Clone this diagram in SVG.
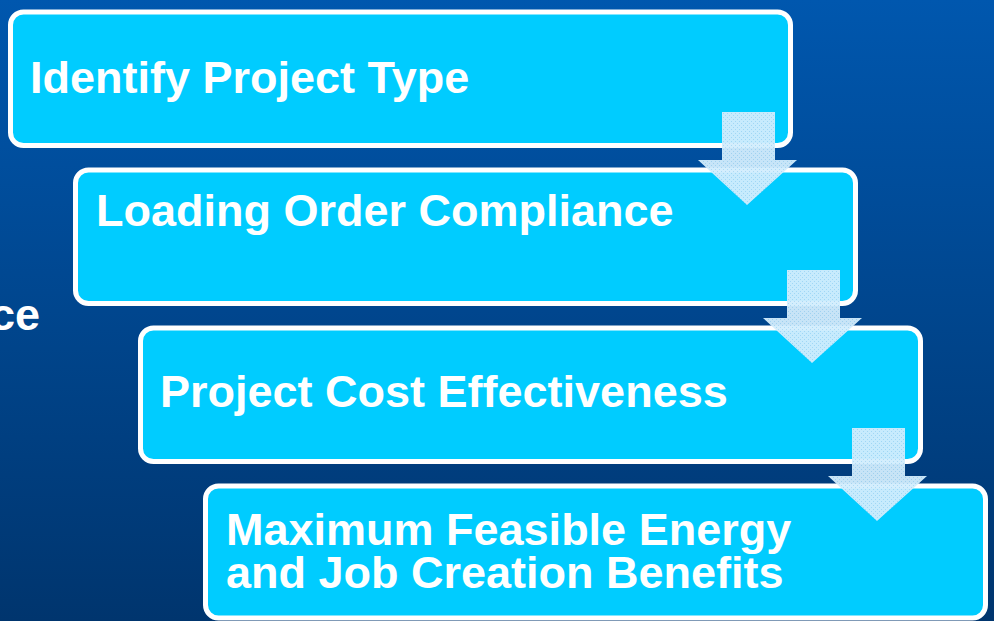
<svg xmlns="http://www.w3.org/2000/svg" width="994" height="621" viewBox="0 0 994 621">
<defs>
<linearGradient id="bg" x1="0" y1="0" x2="0" y2="1">
<stop offset="0" stop-color="#0057ae"/>
<stop offset="1" stop-color="#00356e"/>
</linearGradient>
<pattern id="dots" width="4" height="4" patternUnits="userSpaceOnUse">
<rect width="4" height="4" fill="#d2edfd"/>
<rect x="1" y="1" width="1" height="1" fill="#a8d8f4"/>
<rect x="3" y="3" width="1" height="1" fill="#a8d8f4"/>
</pattern>
<path id="arrow" d="M0,0 H53 V48 H75 L25,93 L-24,48 H0 Z"/>
</defs>
<style>
.box{fill:#00ccff;stroke:#ffffff;stroke-width:5}
.t{font-family:"Liberation Sans",Arial,sans-serif;font-weight:bold;font-size:45px;fill:#ffffff}
.arr{fill:url(#dots);fill-opacity:0.95}
</style>
<rect width="994" height="621" fill="url(#bg)"/>
<text class="t" x="40" y="330" text-anchor="end">ce</text>
<g id="node1">
<rect class="box" x="10.5" y="12" width="780" height="133.5" rx="13"/>
<text class="t" x="30" y="93">Identify Project Type</text>
</g>
<g id="node2">
<rect class="box" x="75.5" y="170" width="780" height="133.5" rx="13"/>
<text class="t" x="96" y="226">Loading Order Compliance</text>
</g>
<g id="node3">
<rect class="box" x="140.5" y="328" width="780" height="133.5" rx="13"/>
<text class="t" x="160" y="407">Project Cost Effectiveness</text>
</g>
<g id="node4">
<rect class="box" x="205.5" y="486" width="780" height="132" rx="13"/>
<text class="t" x="226" y="545">Maximum Feasible Energy</text>
<text class="t" x="226" y="588">and Job Creation Benefits</text>
</g>
<g id="connectors">
<use href="#arrow" class="arr" x="722" y="112"/>
<use href="#arrow" class="arr" x="787" y="270"/>
<use href="#arrow" class="arr" x="852" y="428"/>
</g>
</svg>
